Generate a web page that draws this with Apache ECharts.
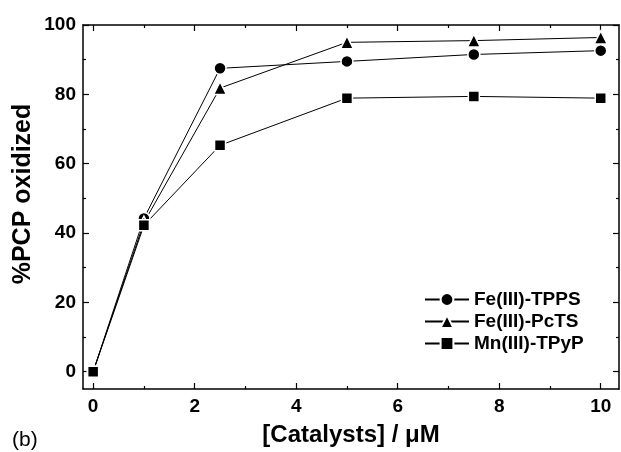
<!DOCTYPE html>
<html>
<head>
<meta charset="utf-8">
<script src="https://cdn.jsdelivr.net/npm/echarts@6/dist/echarts.min.js"></script>
<style>
  html, body { margin: 0; padding: 0; background: #fff; }
  #chart { width: 621px; height: 452px; }
</style>
</head>
<body>
<div id="chart"></div>
<script>
// catalyst concentration (uM)
const conc = [0, 1, 2.5, 5, 7.5, 10]
// % PCP oxidized
const feTPPS = [0, 44.2, 87.5, 89.5, 91.5, 92.6]
const fePcTS = [0, 43.0, 81.8, 95.0, 95.5, 96.4]
const mnTPyP = [0, 42.2, 65.3, 78.9, 79.4, 78.9]

const xMajor = [0, 2, 4, 6, 8, 10]
const xMinor = [1, 3, 5, 7, 9]
const yMajor = [0, 20, 40, 60, 80, 100]
const yMinor = [10, 30, 50, 70, 90]

const font = 'Liberation Sans, Arial, sans-serif'
const xMin = -0.2, xMax = 10.36
const yMin = -5, yMax = 100

function pairs(ys) {
  return conc.map((x, i) => [x, ys[i]])
}

function xAx(position, ticks, len, showLabel, showLine) {
  return {
    type: 'value', position: position, min: xMin, max: xMax,
    axisLine: { show: showLine, onZero: false, lineStyle: { color: '#000', width: 1.5 } },
    axisTick: { show: true, inside: true, length: len, customValues: ticks, lineStyle: { color: '#000', width: 1.2 } },
    axisLabel: { show: showLabel, customValues: ticks, color: '#000', fontFamily: font, fontWeight: 'bold', fontSize: 19, margin: 8 },
    splitLine: { show: false }
  }
}

function yAx(position, ticks, len, showLabel, showLine) {
  return {
    type: 'value', position: position, min: yMin, max: yMax,
    axisLine: { show: showLine, onZero: false, lineStyle: { color: '#000', width: 1.5 } },
    axisTick: { show: true, inside: true, length: len, customValues: ticks, lineStyle: { color: '#000', width: 1.2 } },
    axisLabel: { show: showLabel, customValues: ticks, color: '#000', fontFamily: font, fontWeight: 'bold', fontSize: 19, margin: 7 },
    splitLine: { show: false }
  }
}

const xMain = xAx('bottom', xMajor, 6, true, true)
xMain.name = '[Catalysts] / \u03bcM'
xMain.nameLocation = 'middle'
xMain.nameGap = 34
xMain.nameTextStyle = { color: '#000', fontFamily: font, fontWeight: 'bold', fontSize: 24 }

function lineSeries(name, symbol, size, ys) {
  return {
    name: name, type: 'line', xAxisIndex: 0, yAxisIndex: 0,
    data: pairs(ys),
    symbol: symbol, symbolSize: size,
    lineStyle: { color: '#000', width: 1 },
    itemStyle: { color: '#000', borderColor: '#fff', borderWidth: 1.5 },
    animation: false
  }
}

const chart = echarts.init(document.getElementById('chart'))
chart.setOption({
  backgroundColor: '#fff',
  grid: { left: 83, right: 2, top: 25, bottom: 62 },
  xAxis: [
    xMain,
    xAx('bottom', xMinor, 3, false, false),
    xAx('top', xMajor, 6, false, true),
    xAx('top', xMinor, 3, false, false)
  ],
  yAxis: [
    yAx('left', yMajor, 6, true, true),
    yAx('left', yMinor, 3, false, false),
    yAx('right', yMajor, 6, false, true),
    yAx('right', yMinor, 3, false, false)
  ],
  legend: {
    orient: 'vertical', left: 419, top: 285,
    itemWidth: 44, itemHeight: 16, itemGap: 3,
    textStyle: { color: '#000', fontFamily: font, fontWeight: 'bold', fontSize: 19 },
    data: ['Fe(III)-TPPS', 'Fe(III)-PcTS', 'Mn(III)-TPyP']
  },
  graphic: [{
    type: 'text', x: 23, y: 194, rotation: Math.PI / 2,
    style: {
      text: '%PCP oxidized', fill: '#000', font: 'bold 25px ' + font,
      textAlign: 'center', textVerticalAlign: 'middle'
    }
  }, {
    type: 'text', left: 12, top: 430,
    style: { text: '(b)', fill: '#000', font: '21px ' + font }
  }],
  series: [
    lineSeries('Fe(III)-TPPS', 'circle', 12, feTPPS),
    lineSeries('Fe(III)-PcTS', 'triangle', 13, fePcTS),
    lineSeries('Mn(III)-TPyP', 'rect', 11, mnTPyP)
  ]
})
</script>
</body>
</html>
